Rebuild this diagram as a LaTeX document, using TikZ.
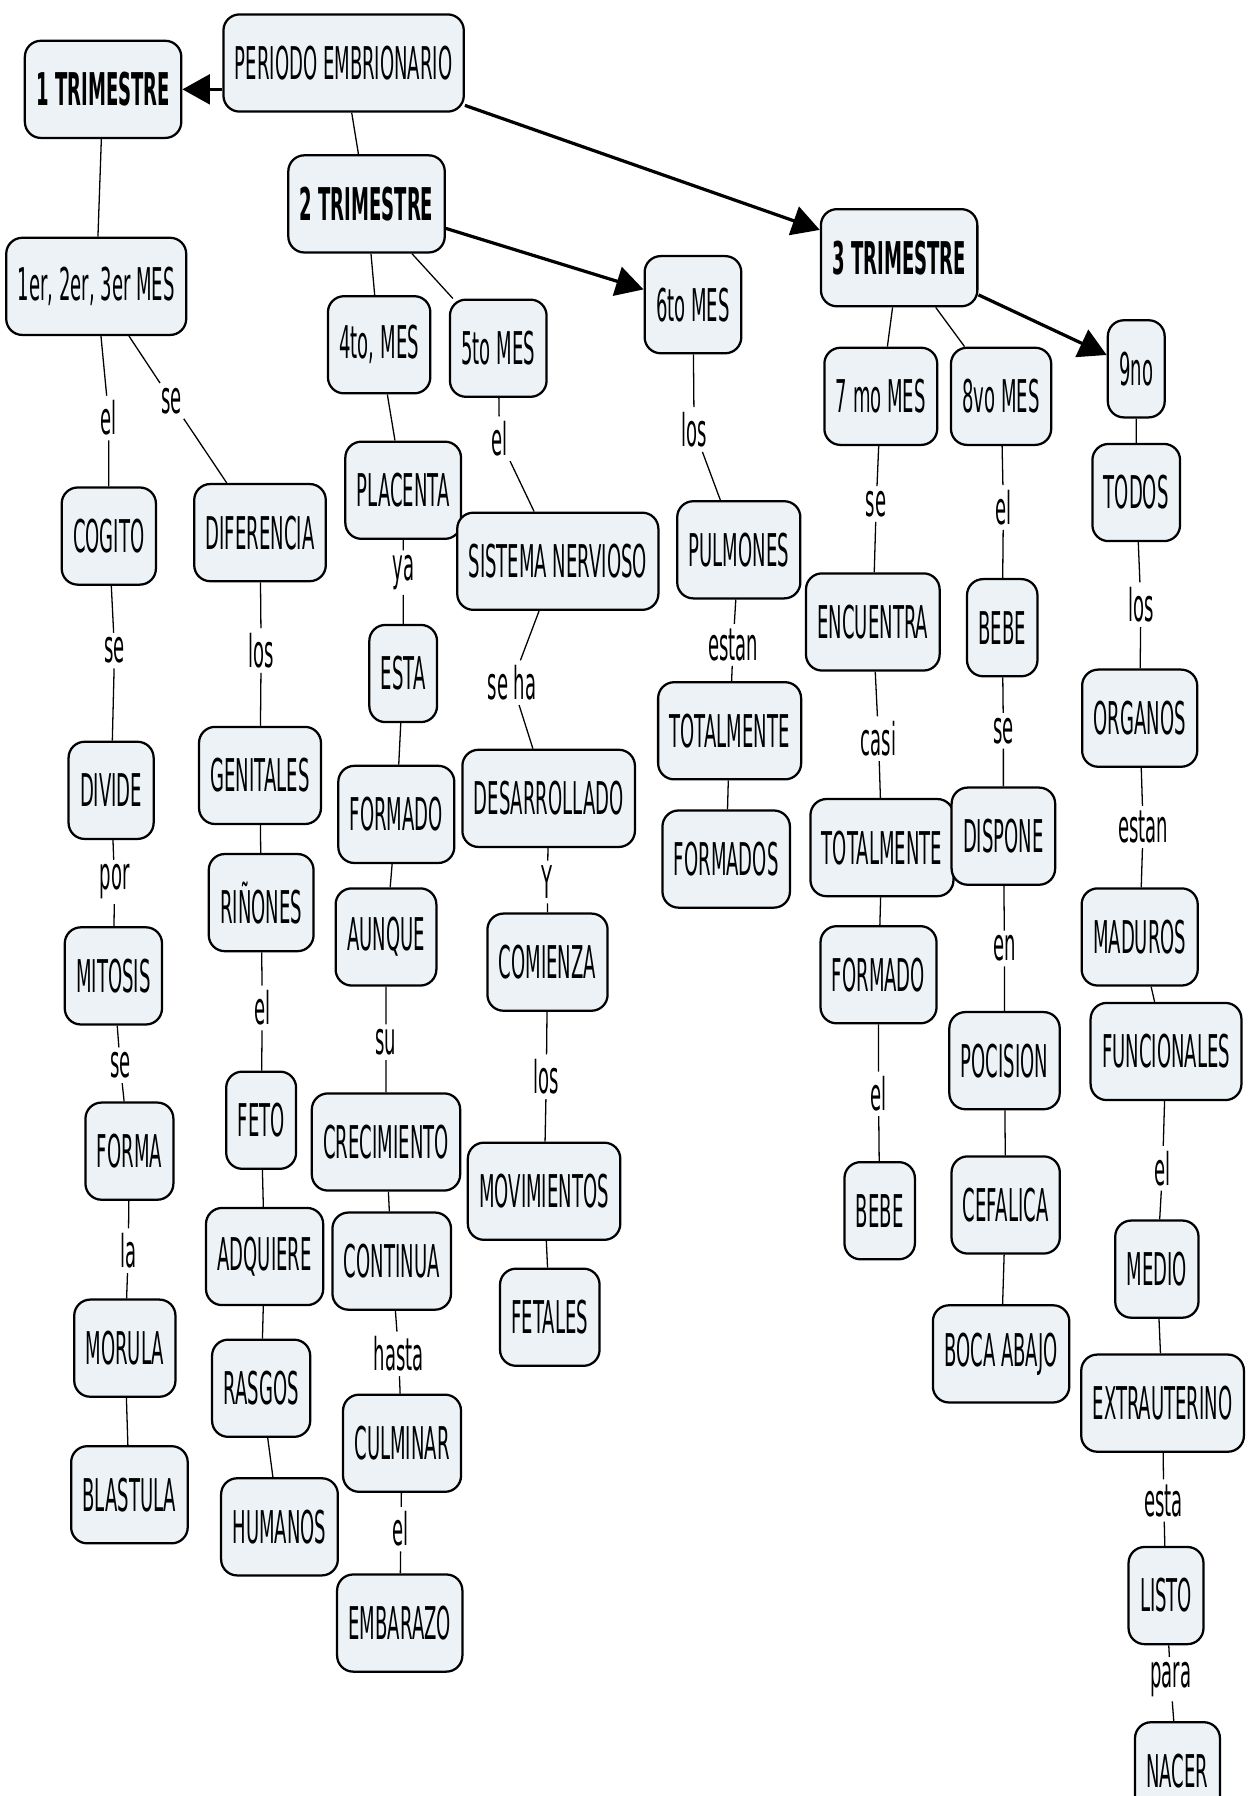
\documentclass[tikz,border=0pt]{standalone}
\usepackage{fontspec}
\setmainfont{DejaVu Sans}[FakeStretch=0.4]
\usetikzlibrary{arrows.meta}
\definecolor{boxfill}{RGB}{236,242,245}

\begin{document}
\begin{tikzpicture}[x=0.025cm, y=-0.025cm,
  box/.style={draw, line width=1.4pt, rounded corners=0.35cm, fill=boxfill,
    minimum height=2.12cm, inner xsep=0.25cm, font=\fontsize{28}{30}\selectfont},
  tri/.style={box, font=\fontsize{28}{30}\selectfont\bfseries},
  lbl/.style={inner sep=0.1cm, font=\fontsize{28}{30}\selectfont},
  link/.style={line width=0.8pt},
  arr/.style={line width=2pt, -{Triangle[length=0.6cm, width=0.65cm]}}]
\useasboundingbox (0,0) rectangle (1095,1568);

% top
\node[box] (pe) at (300,55) {PERIODO EMBRIONARIO};
\node[tri] (t1) at (90,78) {1 TRIMESTRE};
\node[tri] (t2) at (320,178) {2 TRIMESTRE};
\node[tri] (t3) at (785,225) {3 TRIMESTRE};

\node[box] (m1) at (84,250) {1er, 2er, 3er MES};
\node[box] (m4) at (331,301) {4to, MES};
\node[box] (m5) at (435,304) {5to MES};
\node[box] (m6) at (605,266) {6to MES};
\node[box] (m7) at (769,346) {7 mo MES};
\node[box] (m8) at (874,346) {8vo MES};
\node[box] (m9) at (992,322) {9no};

\draw[arr] (pe.west |- t1) -- (t1);
\draw[arr] (pe) -- (t3);
\draw[arr] (t2) -- (m6);
\draw[arr] (t3) -- (m9);
\draw[link] (pe) -- (t2);
\draw[link] (t1) -- (m1);
\draw[link] (t2) -- (m4);
\draw[link] (t2) -- (m5);
\draw[link] (t3) -- (m7);
\draw[link] (t3) -- (m8);

% 1er, 2er, 3er mes
\node[lbl] (a1) at (95,365) {el};
\node[box] (cog) at (95,468) {COGITO};
\node[lbl] (a2) at (100,568) {se};
\node[box] (div) at (97,690) {DIVIDE};
\node[lbl] (a3) at (100,770) {por};
\node[box] (mit) at (99,852) {MITOSIS};
\node[lbl] (a4) at (105,930) {se};
\node[box] (frm) at (113,1005) {FORMA};
\node[lbl] (a5) at (112,1092) {la};
\node[box] (mor) at (109,1177) {MORULA};
\node[box] (bla) at (113,1305) {BLASTULA};
\draw[link] (m1) -- (a1) -- (cog) -- (a2) -- (div) -- (a3) -- (mit) -- (a4) -- (frm) -- (a5) -- (mor) -- (bla);

\node[lbl] (b1) at (150,350) {se};
\node[box] (dif) at (227,465) {DIFERENCIA};
\node[lbl] (b2) at (228,568) {los};
\node[box] (gen) at (227,677) {GENITALES};
\node[box] (rin) at (228,788) {RIÑONES};
\node[lbl] (b3) at (229,880) {el};
\node[box] (fet) at (228,978) {FETO};
\node[box] (adq) at (231,1097) {ADQUIERE};
\node[box] (ras) at (228,1212) {RASGOS};
\node[box] (hum) at (244,1333) {HUMANOS};
\draw[link] (m1) -- (b1) -- (dif) -- (b2) -- (gen) -- (rin) -- (b3) -- (fet) -- (adq) -- (ras) -- (hum);

% 4to mes
\node[box] (pla) at (352,428) {PLACENTA};
\node[lbl] (c1) at (352,500) {ya};
\node[box] (est) at (352,588) {ESTA};
\node[box] (fmd) at (346,711) {FORMADO};
\node[box] (aun) at (337,818) {AUNQUE};
\node[lbl] (c2) at (337,910) {su};
\node[box] (cre) at (337,997) {CRECIMIENTO};
\node[box] (con) at (342,1101) {CONTINUA};
\node[lbl] (c3) at (348,1182) {hasta};
\node[box] (cul) at (351,1260) {CULMINAR};
\node[lbl] (c4) at (350,1335) {el};
\node[box] (emb) at (349,1417) {EMBARAZO};
\draw[link] (m4) -- (pla) -- (c1) -- (est) -- (fmd) -- (aun) -- (c2) -- (cre) -- (con) -- (c3) -- (cul) -- (c4) -- (emb);

% 5to mes
\node[lbl] (d1) at (436,383) {el};
\node[box] (sis) at (487,490) {SISTEMA NERVIOSO};
\node[lbl] (d2) at (447,596) {se ha};
\node[box] (des) at (479,697) {DESARROLLADO};
\node[lbl] (d3) at (478,770) {Y};
\node[box] (com) at (478,840) {COMIENZA};
\node[lbl] (d4) at (477,940) {los};
\node[box] (mov) at (475,1040) {MOVIMIENTOS};
\node[box] (fta) at (480,1150) {FETALES};
\draw[link] (m5) -- (d1) -- (sis) -- (d2) -- (des) -- (d3) -- (com) -- (d4) -- (mov) -- (fta);

% 6to mes
\node[lbl] (e1) at (606,375) {los};
\node[box] (pul) at (645,480) {PULMONES};
\node[lbl] (e2) at (640,563) {estan};
\node[box] (tot) at (637,638) {TOTALMENTE};
\node[box] (fms) at (634,750) {FORMADOS};
\draw[link] (m6) -- (e1) -- (pul) -- (e2) -- (tot) -- (fms);

% 7mo mes
\node[lbl] (f1) at (765,440) {se};
\node[box] (enc) at (762,543) {ENCUENTRA};
\node[lbl] (f2) at (767,645) {casi};
\node[box] (tt2) at (770,740) {TOTALMENTE};
\node[box] (fm2) at (767,851) {FORMADO};
\node[lbl] (f3) at (767,955) {el};
\node[box] (bb2) at (768,1057) {BEBE};
\draw[link] (m7) -- (f1) -- (enc) -- (f2) -- (tt2) -- (fm2) -- (f3) -- (bb2);

% 8vo mes
\node[lbl] (g1) at (876,443) {el};
\node[box] (beb) at (875,548) {BEBE};
\node[lbl] (g2) at (876,638) {se};
\node[box] (dis) at (876,730) {DISPONE};
\node[lbl] (g3) at (877,828) {en};
\node[box] (poc) at (877,926) {POCISION};
\node[box] (cef) at (878,1052) {CEFALICA};
\node[box] (boc) at (874,1182) {BOCA ABAJO};
\draw[link] (m8) -- (g1) -- (beb) -- (g2) -- (dis) -- (g3) -- (poc) -- (cef) -- (boc);

% 9no
\node[box] (tod) at (992,430) {TODOS};
\node[lbl] (h1) at (996,528) {los};
\node[box] (org) at (995,627) {ORGANOS};
\node[lbl] (h2) at (998,722) {estan};
\node[box] (mad) at (995,818) {MADUROS};
\node[box] (fun) at (1018,918) {FUNCIONALES};
\node[lbl] (h3) at (1015,1020) {el};
\node[box] (med) at (1010,1108) {MEDIO};
\node[box] (ext) at (1015,1225) {EXTRAUTERINO};
\node[lbl] (h4) at (1016,1310) {esta};
\node[box] (lis) at (1018,1393) {LISTO};
\node[lbl] (h5) at (1022,1466) {para};
\node[box] (nac) at (1028,1546) {NACER};
\draw[link] (m9) -- (tod) -- (h1) -- (org) -- (h2) -- (mad) -- (fun) -- (h3) -- (med) -- (ext) -- (h4) -- (lis) -- (h5) -- (nac);

\end{tikzpicture}
\end{document}
